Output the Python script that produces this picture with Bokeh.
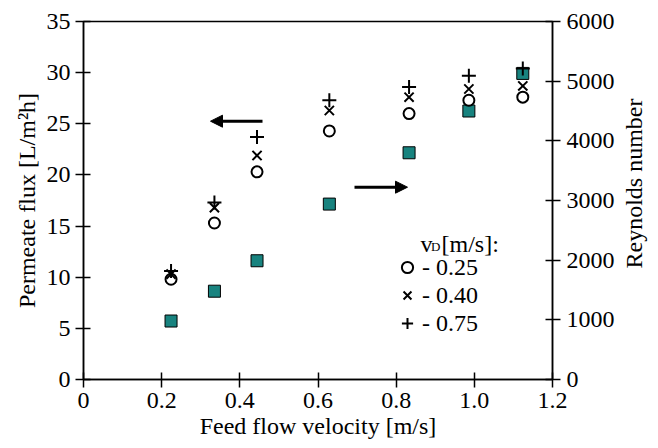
import math
from bokeh.plotting import figure
from bokeh.models import (Range1d, LinearAxis, FixedTicker, Arrow, NormalHead,
                          Label, Legend, LegendItem)
from bokeh.embed import file_html
from bokeh.resources import INLINE

# ---------------- data ----------------
velocity = [0.224, 0.335, 0.444, 0.629, 0.833, 0.986, 1.124]
flux_025 = [9.8, 15.3, 20.3, 24.3, 26.0, 27.3, 27.6]
flux_040 = [10.3, 16.8, 21.9, 26.3, 27.6, 28.4, 28.7]
flux_075 = [10.6, 17.3, 23.7, 27.3, 28.6, 29.7, 30.4]
reynolds = [980, 1480, 1990, 2940, 3800, 4500, 5130]

x_ticks = [0, 0.2, 0.4, 0.6, 0.8, 1.0, 1.2]
x_tick_labels = ["0", "0.2", "0.4", "0.6", "0.8", "1.0", "1.2"]
flux_ticks = [0, 5, 10, 15, 20, 25, 30, 35]
re_ticks = [0, 1000, 2000, 3000, 4000, 5000, 6000]
legend_labels = ["- 0.25", "- 0.40", "- 0.75"]

x_title = "Feed flow velocity [m/s]"
y_title = "Permeate flux [L/m\u00b2h]"
y2_title = "Reynolds number"

FONT = "Liberation Serif"
FS = "24px"
TEAL = "#18837f"

# ---------------- figure ----------------
FW, FH = 469, 358
BL, BR, BT, BB = 83, 98, 21, 69
X0, X1, Y0, Y1 = 0, 1.2, 0, 35

p = figure(frame_width=FW, frame_height=FH,
           x_range=Range1d(X0, X1), y_range=Range1d(Y0, Y1),
           min_border_left=BL, min_border_right=BR,
           min_border_top=BT, min_border_bottom=BB,
           output_backend="svg", toolbar_location=None,
           background_fill_color="white", border_fill_color="white")
p.xgrid.visible = False
p.ygrid.visible = False
p.outline_line_color = "black"
p.outline_line_width = 1.5

p.extra_y_ranges = {"re": Range1d(0, 6000)}
right_axis = LinearAxis(y_range_name="re", ticker=FixedTicker(ticks=re_ticks))
p.add_layout(right_axis, "right")

p.xaxis.ticker = FixedTicker(ticks=x_ticks)
p.xaxis.major_label_overrides = {t: l for t, l in zip(x_ticks, x_tick_labels)}
p.yaxis[0].ticker = FixedTicker(ticks=flux_ticks)

for ax in [p.xaxis[0], p.yaxis[0], right_axis]:
    ax.axis_line_color = "black"
    ax.axis_line_width = 1.5
    ax.major_tick_line_color = "black"
    ax.major_tick_line_width = 1.5
    ax.major_tick_in = 7
    ax.major_tick_out = 8
    ax.minor_tick_line_color = None
    ax.major_label_text_font = FONT
    ax.major_label_text_font_size = FS
    ax.major_label_text_color = "black"
    ax.major_label_standoff = 5
    ax.axis_label_text_font = FONT
    ax.axis_label_text_font_size = FS
    ax.axis_label_text_font_style = "normal"
    ax.axis_label_text_color = "black"

p.xaxis.axis_label = x_title
p.xaxis.axis_label_standoff = 2
p.yaxis[0].axis_label = y_title
p.yaxis[0].axis_label_standoff = 4
right_axis.major_label_standoff = 6

# right axis title, placed in the right side panel, reading bottom-to-top
right_title = Label(x=16, y=111, x_units="screen", y_units="screen",
                    text=y2_title, angle=math.pi / 2,
                    text_font=FONT, text_font_size=FS, text_align="left",
                    text_baseline="alphabetic", text_color="black")
p.add_layout(right_title, "right")

# ---------------- markers ----------------
p.scatter(velocity, reynolds, y_range_name="re", marker="square", size=12,
          fill_color=TEAL, line_color="black", line_width=1)
r1 = p.scatter(velocity, flux_025, marker="circle", size=11,
               fill_color="white", line_color="black", line_width=2)
r2 = p.scatter(velocity, flux_040, marker="x", size=13,
               line_color="black", line_width=2)
r3 = p.scatter(velocity, flux_075, marker="cross", size=14,
               line_color="black", line_width=2)

# ---------------- helpers (page pixel -> data) ----------------
PX0 = BL
PY1 = BT + FH
def xd(px):
    return X0 + (px - PX0) / FW * (X1 - X0)
def yd(py):
    return Y0 + (PY1 - py) / FH * (Y1 - Y0)

# ---------------- arrows ----------------
p.add_layout(Arrow(x_start=xd(262), y_start=yd(120.7), x_end=xd(210), y_end=yd(120.7),
                   line_width=3, line_color="black",
                   end=NormalHead(size=12, fill_color="black", line_color="black")))
p.add_layout(Arrow(x_start=xd(354), y_start=yd(186.7), x_end=xd(407), y_end=yd(186.7),
                   line_width=3, line_color="black",
                   end=NormalHead(size=12, fill_color="black", line_color="black")))

# ---------------- legend ----------------
legend = Legend(items=[LegendItem(label=legend_labels[0], renderers=[r1]),
                       LegendItem(label=legend_labels[1], renderers=[r2]),
                       LegendItem(label=legend_labels[2], renderers=[r3])],
                location=(309, 42), orientation="vertical",
                glyph_width=30, glyph_height=28, label_height=28,
                spacing=0, padding=0, margin=0, label_standoff=0,
                border_line_color=None, background_fill_alpha=0,
                label_text_font=FONT, label_text_font_size=FS,
                label_text_color="black")
p.add_layout(legend)

p.add_layout(Label(x=xd(420), y=yd(243.3), text="v", text_font=FONT,
                   text_font_size=FS, text_baseline="alphabetic", text_color="black"))
p.add_layout(Label(x=xd(430.5), y=yd(245.7), text="D", text_font=FONT,
                   text_font_size="13px", text_baseline="alphabetic", text_color="black"))
p.add_layout(Label(x=xd(441), y=yd(243.3), text="[m/s]:", text_font=FONT,
                   text_font_size=FS, text_baseline="alphabetic", text_color="black"))

open("out.html", "w").write(file_html(p, INLINE))
